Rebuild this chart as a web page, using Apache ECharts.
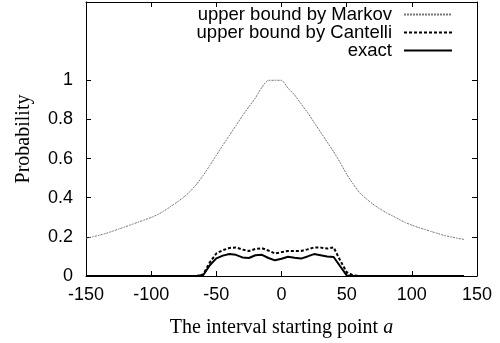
<!DOCTYPE html>
<html>
<head>
<meta charset="utf-8">
<script src="https://cdn.jsdelivr.net/npm/echarts@6/dist/echarts.min.js"></script>
<style>
  html, body { margin: 0; padding: 0; background: #fff; }
  #chart { width: 500px; height: 343px; }
</style>
</head>
<body>
<div id="chart"></div>
<script>
// Interval starting points a
const startPoints = [
  -150, -145, -140, -135, -130, -125, -120, -115, -110, -105,
  -100, -95, -90, -85, -80, -75, -70, -65, -60, -55,
  -50, -45, -40, -35, -30, -25, -20, -15, -10, -5,
  0, 5, 10, 15, 20, 25, 30, 35, 40, 45,
  50, 55, 60, 65, 70, 75, 80, 85, 90, 95,
  100, 105, 110, 115, 120, 125, 130, 135, 140
];

// Upper bound from Markov's inequality
const markovBound = [
  0.192, 0.200, 0.208, 0.217, 0.228, 0.240, 0.251, 0.263, 0.275, 0.287,
  0.299, 0.314, 0.333, 0.355, 0.378, 0.403, 0.433, 0.470, 0.515, 0.565,
  0.617, 0.668, 0.718, 0.768, 0.818, 0.865, 0.910, 0.965, 1.000, 1.000,
  1.000, 0.960, 0.925, 0.880, 0.835, 0.785, 0.735, 0.685, 0.635, 0.580,
  0.520, 0.470, 0.425, 0.395, 0.368, 0.345, 0.325, 0.308, 0.290, 0.273,
  0.260, 0.248, 0.238, 0.227, 0.217, 0.207, 0.200, 0.193, 0.187
];

// Upper bound from Cantelli's inequality
const cantelliBound = [
  0, 0, 0, 0, 0, 0, 0, 0, 0, 0,
  0, 0, 0, 0, 0, 0, 0, 0, 0.008, 0.070,
  0.115, 0.132, 0.143, 0.146, 0.135, 0.128, 0.138, 0.142, 0.130, 0.115,
  0.122, 0.128, 0.128, 0.128, 0.136, 0.146, 0.145, 0.140, 0.146, 0.080,
  0.020, 0.003, 0, 0, 0, 0, 0, 0, 0, 0,
  0, 0, 0, 0, 0, 0, 0, 0, 0
];

// Exact probability
const exactProb = [
  0, 0, 0, 0, 0, 0, 0, 0, 0, 0,
  0, 0, 0, 0, 0, 0, 0, 0, 0.005, 0.055,
  0.090, 0.104, 0.112, 0.108, 0.095, 0.092, 0.106, 0.108, 0.092, 0.080,
  0.088, 0.098, 0.093, 0.089, 0.100, 0.112, 0.106, 0.100, 0.097, 0.050,
  0.003, 0, 0, 0, 0, 0, 0, 0, 0, 0,
  0, 0, 0, 0, 0, 0, 0, 0, 0
];

const xTicks = [-150, -100, -50, 0, 50, 100, 150];
const yTicks = [0, 0.2, 0.4, 0.6, 0.8, 1];

const seriesNames = ['upper bound by Markov', 'upper bound by Cantelli', 'exact'];

const pairs = (ys) => startPoints.map((x, i) => [x, ys[i]]);

const sansFont = '"Liberation Sans", Arial, sans-serif';
const serifFont = '"Liberation Serif", "Times New Roman", serif';

const chart = echarts.init(document.getElementById('chart'), null, { renderer: 'canvas' });

const frameLine = { show: true, onZero: false, lineStyle: { color: '#000', width: 1 } };
const innerTick = { show: true, inside: true, length: 5, lineStyle: { color: '#000', width: 1 } };

chart.setOption({
  animation: false,
  backgroundColor: '#fff',
  grid: { left: 86, right: 23, top: 2, bottom: 66 },
  legend: {
    data: seriesNames,
    orient: 'vertical',
    right: 47,
    top: 5,
    padding: 0,
    align: 'right',
    itemWidth: 48,
    itemHeight: 14,
    itemGap: -1,
    itemStyle: { opacity: 0 },
    textStyle: { fontFamily: sansFont, fontSize: 18.5, lineHeight: 18.5, color: '#000', padding: [0, 7, 0, 0] }
  },
  xAxis: [
    {
      type: 'value', min: -150, max: 150, interval: 50,
      name: 'The interval starting point {i|a}',
      nameLocation: 'middle', nameGap: 42,
      nameTextStyle: {
        fontFamily: serifFont, fontSize: 20, color: '#000',
        rich: { i: { fontFamily: serifFont, fontSize: 20, fontStyle: 'italic', color: '#000' } }
      },
      axisLine: frameLine,
      axisTick: Object.assign({}, innerTick, { customValues: xTicks }),
      axisLabel: { customValues: xTicks, fontFamily: sansFont, fontSize: 18, color: '#000', margin: 10 },
      splitLine: { show: false }
    },
    {
      type: 'value', min: -150, max: 150, interval: 50, position: 'top',
      axisLine: frameLine,
      axisTick: Object.assign({}, innerTick, { customValues: xTicks }),
      axisLabel: { show: false },
      splitLine: { show: false }
    }
  ],
  yAxis: [
    {
      type: 'value', min: 0, max: 1.4, interval: 0.2,
      name: 'Probability',
      nameLocation: 'middle', nameGap: 52,
      nameTextStyle: { fontFamily: serifFont, fontSize: 20, color: '#000' },
      axisLine: frameLine,
      axisTick: Object.assign({}, innerTick, { customValues: yTicks }),
      axisLabel: { customValues: yTicks, fontFamily: sansFont, fontSize: 18, color: '#000', margin: 13 },
      splitLine: { show: false }
    },
    {
      type: 'value', min: 0, max: 1.4, interval: 0.2, position: 'right',
      axisLine: frameLine,
      axisTick: Object.assign({}, innerTick, { customValues: yTicks }),
      axisLabel: { show: false },
      splitLine: { show: false }
    }
  ],
  series: [
    {
      name: seriesNames[0], type: 'line', data: pairs(markovBound),
      showSymbol: false, symbol: 'none', smooth: 0.2,
      lineStyle: { color: '#777', width: 1, type: [2, 1] },
      itemStyle: { color: '#777' }
    },
    {
      name: seriesNames[1], type: 'line', data: pairs(cantelliBound),
      showSymbol: false, symbol: 'none',
      lineStyle: { color: '#000', width: 2, type: [3, 2] },
      itemStyle: { color: '#000' }
    },
    {
      name: seriesNames[2], type: 'line', data: pairs(exactProb),
      showSymbol: false, symbol: 'none',
      lineStyle: { color: '#000', width: 2 },
      itemStyle: { color: '#000' }
    }
  ]
});
</script>
</body>
</html>
